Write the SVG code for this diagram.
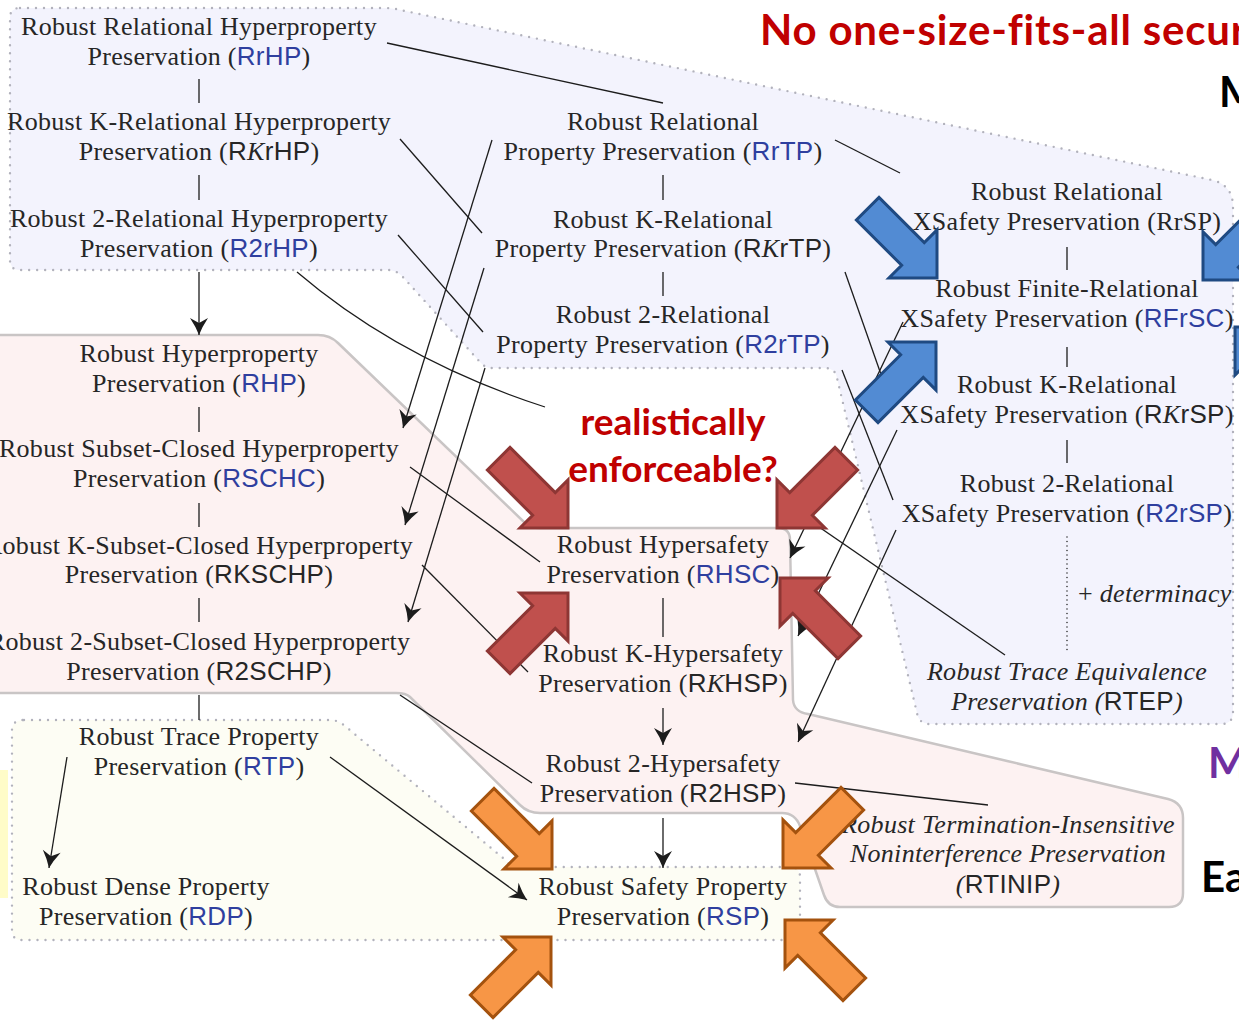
<svg xmlns="http://www.w3.org/2000/svg" width="1239" height="1021" viewBox="0 0 1239 1021">
  <style>
    .t { font-family: "Liberation Serif", "Times New Roman", serif; font-size: 26px; fill: #262626; text-anchor: middle; letter-spacing: 0.3px; }
    .s { font-family: "Liberation Sans", Arial, sans-serif; }
    .b { fill: #2f3f9f; }
    .i { font-style: italic; }
    .ln { stroke: #1c1c1c; stroke-width: 1.3; fill: none; }
    .ar { stroke: #1c1c1c; stroke-width: 1.3; fill: none; marker-end: url(#ah); }
    .dotb { stroke: #b2b2bc; stroke-width: 2.4; stroke-linecap: round; stroke-dasharray: 0 8; }
    .call { font-family: Lato, "Liberation Sans", sans-serif; font-weight: bold; }
    .red { fill: #c0504d; stroke: #8e3634; stroke-width: 3; stroke-linejoin: miter; }
    .blue { fill: #528bd3; stroke: #1f4a82; stroke-width: 3; stroke-linejoin: miter; }
    .orng { fill: #f79646; stroke: #a4520e; stroke-width: 3; stroke-linejoin: miter; }
  </style>
  <defs>
    <marker id="ah" markerUnits="userSpaceOnUse" orient="auto" refX="0" refY="0" markerWidth="24" markerHeight="24" viewBox="-20 -12 22 24" overflow="visible">
      <path d="M0,0 Q-8,-3 -17,-9 L-12,0 L-17,9 Q-8,3 0,0 Z" fill="#1c1c1c"/>
    </marker>
    <!-- block arrow pointing along +x, tip at origin, 90 degree head -->
    <path id="blk" d="M0,0 L-34,-34 L-34,-16 L-98,-16 L-98,16 L-34,16 L-34,34 Z"/>
  </defs>

  <rect width="1239" height="1021" fill="#ffffff"/>

  <!-- background regions -->
  <g id="regions">
    <path id="region-relational" class="dotb" fill="#f3f3fd" d="M20,8 L385,8 Q392,8 398,9.5 L1212,180 Q1233,185 1233,207 L1233,712 Q1233,724 1221,724 L930,724 Q919,724 917,713 L837,378 Q835,368 825,368 L492,368 Q485,368 480,362 L402,276 Q396,270 388,270 L20,270 Q10,270 10,260 L10,18 Q10,8 20,8 Z"/>
    <path id="region-hyper" fill="#fdf2f2" stroke="#c9c5c5" stroke-width="2.5" d="M-5,335 L318,335 Q330,335 338,343 L524,522 Q530,528 540,528 L778,528 Q790,528 790,540 L793,700 Q794,712 808,714 L1168,799 Q1183,803 1183,818 L1183,893 Q1183,907 1169,907 L840,907 Q828,907 824,895 L800,826 Q795,813 782,813 L540,813 Q528,813 520,805 L410,697 Q406,693 396,693 L-5,693 Z"/>
    <path id="region-trace" class="dotb" fill="#fdfdf4" d="M24,720 L330,720 Q338,720 345,726 L503,858 Q510,867 520,867 L790,867 Q800,867 800,877 L800,930 Q800,940 790,940 L22,940 Q12,940 12,930 L12,730 Q12,720 24,720 Z"/>
    <rect x="0" y="770" width="8" height="128" fill="#fffcc8"/>
  </g>

  <!-- connectors -->
  <g id="connectors">
    <line class="ln" x1="199" y1="79" x2="199" y2="103"/>
    <line class="ln" x1="199" y1="175" x2="199" y2="200"/>
    <line class="ar" x1="199" y1="272" x2="199" y2="335"/>
    <line class="ln" x1="199" y1="407" x2="199" y2="432"/>
    <line class="ln" x1="199" y1="503" x2="199" y2="527"/>
    <line class="ln" x1="199" y1="598" x2="199" y2="622"/>
    <line class="ln" x1="199" y1="695" x2="199" y2="720"/>
    <line class="ln" x1="663" y1="175" x2="663" y2="200"/>
    <line class="ln" x1="663" y1="272" x2="663" y2="296"/>
    <line class="ln" x1="663" y1="598" x2="663" y2="637"/>
    <line class="ar" x1="663" y1="708" x2="663" y2="745"/>
    <line class="ar" x1="663" y1="818" x2="663" y2="868"/>
    <line class="ln" x1="1067" y1="247" x2="1067" y2="270"/>
    <line class="ln" x1="1067" y1="347" x2="1067" y2="367"/>
    <line class="ln" x1="1067" y1="440" x2="1067" y2="463"/>
    <line x1="1067" y1="537" x2="1067" y2="650" stroke="#333" stroke-width="1.6" stroke-linecap="round" stroke-dasharray="0 4.5"/>

    <line class="ln" x1="387" y1="43" x2="663" y2="103"/>
    <line class="ln" x1="835" y1="140" x2="900" y2="173"/>
    <line class="ln" x1="400" y1="139" x2="482" y2="233"/>
    <line class="ln" x1="398" y1="235" x2="483" y2="332"/>
    <line class="ln" x1="845" y1="272" x2="890" y2="400"/>
    <line class="ln" x1="842" y1="370" x2="893" y2="500"/>
    <path class="ln" d="M297,272 Q400,360 545,407"/>

    <line class="ar" x1="492" y1="140" x2="403" y2="428"/>
    <line class="ar" x1="484" y1="268" x2="405" y2="525"/>
    <line class="ar" x1="485" y1="368" x2="408" y2="622"/>

    <line class="ar" x1="903" y1="322" x2="790" y2="558"/>
    <line class="ar" x1="897" y1="430" x2="798" y2="636"/>
    <line class="ar" x1="896" y1="530" x2="798" y2="742"/>

    <line class="ln" x1="790" y1="507" x2="1005" y2="655"/>
    <line class="ln" x1="410" y1="467" x2="540" y2="562"/>
    <line class="ln" x1="422" y1="565" x2="528" y2="672"/>
    <line class="ln" x1="400" y1="695" x2="532" y2="783"/>
    <line class="ln" x1="795" y1="783" x2="988" y2="805"/>
    <line class="ar" x1="330" y1="757" x2="527" y2="900"/>
    <line class="ar" x1="67" y1="757" x2="49" y2="868"/>
  </g>

  <!-- nodes -->
  <g id="node-RrHP"><text class="t" x="199" y="35">Robust Relational Hyperproperty</text><text class="t" x="199" y="65">Preservation (<tspan class="s b">RrHP</tspan>)</text></g>
  <g id="node-RKrHP"><text class="t" x="199" y="130">Robust K-Relational Hyperproperty</text><text class="t" x="199" y="160">Preservation (<tspan class="s">R</tspan><tspan class="i">K</tspan><tspan class="s">rHP</tspan>)</text></g>
  <g id="node-R2rHP"><text class="t" x="199" y="227">Robust 2-Relational Hyperproperty</text><text class="t" x="199" y="257">Preservation (<tspan class="s b">R2rHP</tspan>)</text></g>
  <g id="node-RHP"><text class="t" x="199" y="362">Robust Hyperproperty</text><text class="t" x="199" y="392">Preservation (<tspan class="s b">RHP</tspan>)</text></g>
  <g id="node-RSCHC"><text class="t" x="199" y="457">Robust Subset-Closed Hyperproperty</text><text class="t" x="199" y="487">Preservation (<tspan class="s b">RSCHC</tspan>)</text></g>
  <g id="node-RKSCHP"><text class="t" x="199" y="554">Robust K-Subset-Closed Hyperproperty</text><text class="t" x="199" y="583">Preservation (<tspan class="s">RKSCHP</tspan>)</text></g>
  <g id="node-R2SCHP"><text class="t" x="199" y="650">Robust 2-Subset-Closed Hyperproperty</text><text class="t" x="199" y="680">Preservation (<tspan class="s">R2SCHP</tspan>)</text></g>
  <g id="node-RTP"><text class="t" x="199" y="745">Robust Trace Property</text><text class="t" x="199" y="775">Preservation (<tspan class="s b">RTP</tspan>)</text></g>
  <g id="node-RDP"><text class="t" x="146" y="895">Robust Dense Property</text><text class="t" x="146" y="925">Preservation (<tspan class="s b">RDP</tspan>)</text></g>

  <g id="node-RrTP"><text class="t" x="663" y="130">Robust Relational</text><text class="t" x="663" y="160">Property Preservation (<tspan class="s b">RrTP</tspan>)</text></g>
  <g id="node-RKrTP"><text class="t" x="663" y="228">Robust K-Relational</text><text class="t" x="663" y="257">Property Preservation (<tspan class="s">R</tspan><tspan class="i">K</tspan><tspan class="s">rTP</tspan>)</text></g>
  <g id="node-R2rTP"><text class="t" x="663" y="323">Robust 2-Relational</text><text class="t" x="663" y="353">Property Preservation (<tspan class="s b">R2rTP</tspan>)</text></g>
  <g id="node-RHSC"><text class="t" x="663" y="553">Robust Hypersafety</text><text class="t" x="663" y="583">Preservation (<tspan class="s b">RHSC</tspan>)</text></g>
  <g id="node-RKHSP"><text class="t" x="663" y="662">Robust K-Hypersafety</text><text class="t" x="663" y="692">Preservation (<tspan class="s">R</tspan><tspan class="i">K</tspan><tspan class="s">HSP</tspan>)</text></g>
  <g id="node-R2HSP"><text class="t" x="663" y="772">Robust 2-Hypersafety</text><text class="t" x="663" y="802">Preservation (<tspan class="s">R2HSP</tspan>)</text></g>
  <g id="node-RSP"><text class="t" x="663" y="895">Robust Safety Property</text><text class="t" x="663" y="925">Preservation (<tspan class="s b">RSP</tspan>)</text></g>

  <g id="node-RrSP"><text class="t" x="1067" y="200">Robust Relational</text><text class="t" x="1067" y="230">XSafety Preservation (RrSP)</text></g>
  <g id="node-RFrSC"><text class="t" x="1067" y="297">Robust Finite-Relational</text><text class="t" x="1067" y="327">XSafety Preservation (<tspan class="s b">RFrSC</tspan>)</text></g>
  <g id="node-RKrSP"><text class="t" x="1067" y="393">Robust K-Relational</text><text class="t" x="1067" y="423">XSafety Preservation (<tspan class="s">R</tspan><tspan class="i">K</tspan><tspan class="s">rSP</tspan>)</text></g>
  <g id="node-R2rSP"><text class="t" x="1067" y="492">Robust 2-Relational</text><text class="t" x="1067" y="522">XSafety Preservation (<tspan class="s b">R2rSP</tspan>)</text></g>
  <g id="label-determinacy"><text class="t" x="1078" y="602" style="text-anchor:start">+ <tspan class="i">determinacy</tspan></text></g>
  <g id="node-RTEP"><text class="t i" x="1067" y="680">Robust Trace Equivalence</text><text class="t" x="1067" y="710"><tspan class="i">Preservation (</tspan><tspan class="s">RTEP</tspan><tspan class="i">)</tspan></text></g>
  <g id="node-RTINIP"><text class="t i" x="1008" y="833">Robust Termination-Insensitive</text><text class="t i" x="1008" y="862">Noninterference Preservation</text><text class="t" x="1008" y="893"><tspan class="i">(</tspan><tspan class="s">RTINIP</tspan><tspan class="i">)</tspan></text></g>

  <!-- block arrows -->
  <g id="callout-arrows">
    <use href="#blk" class="blue" transform="translate(937,278) rotate(45)"/>
    <use href="#blk" class="blue" transform="translate(936,342) rotate(-45)"/>
    <use href="#blk" class="blue" transform="translate(1203,280) rotate(135)"/>
    <use href="#blk" class="blue" transform="translate(1235,327) rotate(225)"/>
    <use href="#blk" class="red" transform="translate(568,528) rotate(45)"/>
    <use href="#blk" class="red" transform="translate(777,528) rotate(135)"/>
    <use href="#blk" class="red" transform="translate(568,593) rotate(-45)"/>
    <use href="#blk" class="red" transform="translate(780,578) rotate(225)"/>
    <use href="#blk" class="orng" transform="translate(552,869) rotate(45)"/>
    <use href="#blk" class="orng" transform="translate(783,868) rotate(135)"/>
    <use href="#blk" class="orng" transform="translate(551,937) rotate(-45)"/>
    <use href="#blk" class="orng" transform="translate(785,920) rotate(225)"/>
  </g>

  <!-- slide annotations -->
  <g id="annotations">
    <text class="call" x="760" y="45" font-size="42" letter-spacing="0.8" fill="#c00000">No one-size-fits-all secur</text>
    <text class="call" x="673" y="435" font-size="37" fill="#c00000" text-anchor="middle">realistically</text>
    <text class="call" x="673" y="482" font-size="37" fill="#c00000" text-anchor="middle">enforceable?</text>
    <text class="call" x="1219" y="107" font-size="42" fill="#000000">M</text>
    <text class="call" x="1208" y="778" font-size="42" fill="#7030a0">M</text>
    <text class="call" x="1201" y="892" font-size="42" fill="#000000">Ea</text>
  </g>
</svg>
